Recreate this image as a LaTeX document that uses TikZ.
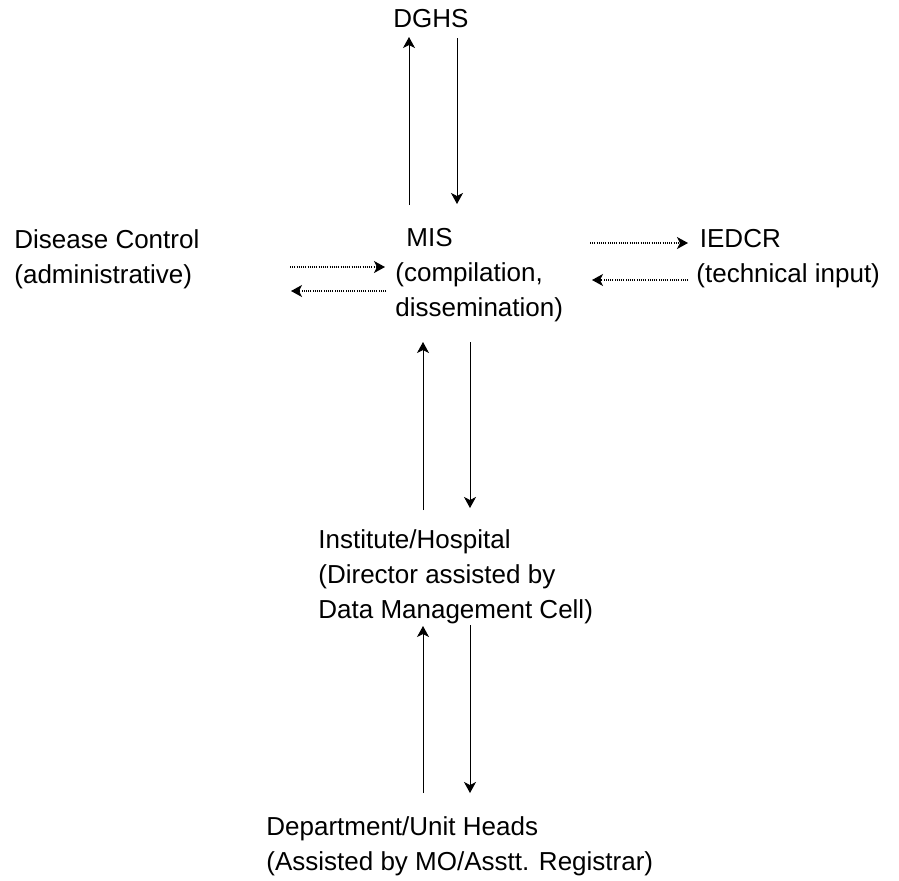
\documentclass[tikz,border=0pt]{standalone}
\usepackage{fontspec}
\setmainfont{Liberation Sans}
\usetikzlibrary{arrows.meta}
\tikzset{
  label text/.style={anchor=north west,inner sep=0pt,align=left,font=\fontsize{13pt}{17.5pt}\selectfont},
  report/.style={-{Stealth[length=5.5pt,width=6pt,inset=1.5pt]},line width=0.5pt},
  advice/.style={report,line width=0.6pt,dash pattern=on 0.4pt off 0.7pt}
}
\begin{document}
\begin{tikzpicture}[x=0.5pt,y=-0.5pt]
\useasboundingbox (0,0) rectangle (899,880);
\node[label text] (dghs) at (393,9) {DGHS};
\node[label text] (dc) at (14,229) {Disease Control\\(administrative)};
\node[label text] (mis) at (395,228) {\hspace*{5.5pt}MIS\\(compilation,\\dissemination)};
\node[label text] (iedcr) at (696,229) {\hspace*{1.75pt}IEDCR\\(technical input)};
\node[label text] (inst) at (318,529) {Institute/Hospital\\(Director assisted by\\Data Management Cell)};
\node[label text] (dept) at (266,816) {Department/Unit Heads\\(Assisted by MO/Asstt. Registrar)};
% MIS <-> DGHS
\coordinate (mis_up_s) at (409,205);
\coordinate (mis_up_e) at (409,37);
\coordinate (dghs_dn_s) at (457,38);
\coordinate (dghs_dn_e) at (457,204);
\draw[report] (mis_up_s) -- (mis_up_e);
\draw[report] (dghs_dn_s) -- (dghs_dn_e);
% Disease Control <-> MIS
\coordinate (dc_r_s) at (290,267);
\coordinate (dc_r_e) at (385,267);
\coordinate (dc_l_s) at (386,291);
\coordinate (dc_l_e) at (291,291);
\draw[advice] (dc_r_s) -- (dc_r_e);
\draw[advice] (dc_l_s) -- (dc_l_e);
% MIS <-> IEDCR
\coordinate (ie_r_s) at (590,243);
\coordinate (ie_r_e) at (688,243);
\coordinate (ie_l_s) at (688,280);
\coordinate (ie_l_e) at (592,280);
\draw[advice] (ie_r_s) -- (ie_r_e);
\draw[advice] (ie_l_s) -- (ie_l_e);
% Institute <-> MIS
\coordinate (inst_up_s) at (423,510);
\coordinate (inst_up_e) at (423,342);
\coordinate (inst_dn_s) at (470,342);
\coordinate (inst_dn_e) at (470,508);
\draw[report] (inst_up_s) -- (inst_up_e);
\draw[report] (inst_dn_s) -- (inst_dn_e);
% Department <-> Institute
\coordinate (dept_up_s) at (423,793);
\coordinate (dept_up_e) at (423,626);
\coordinate (dept_dn_s) at (470,625);
\coordinate (dept_dn_e) at (470,793);
\draw[report] (dept_up_s) -- (dept_up_e);
\draw[report] (dept_dn_s) -- (dept_dn_e);
\end{tikzpicture}
\end{document}
